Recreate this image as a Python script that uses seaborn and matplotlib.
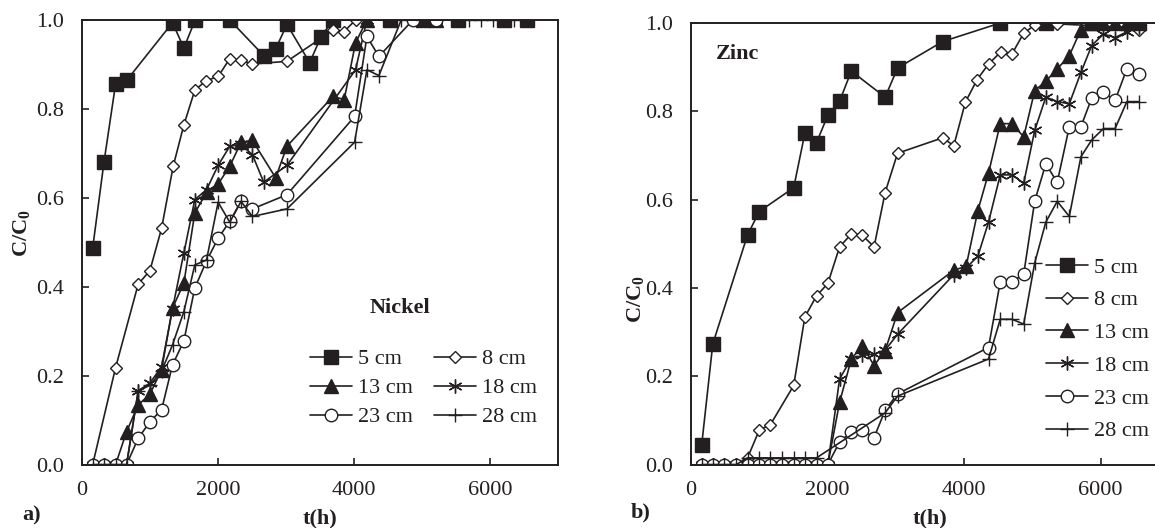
import matplotlib
matplotlib.use("Agg")
import matplotlib.pyplot as plt
import seaborn as sns

# ---------------- data: Nickel (panel a) ----------------
ni_labels = ["5 cm", "8 cm", "13 cm", "18 cm", "23 cm", "28 cm"]

ni5_t = [157, 323, 494, 656, 1331, 1498, 1664, 2173, 2672, 2848, 3014, 3348, 3514, 3690, 4533, 5022, 5525, 6211, 6539]
ni5_c = [0.487, 0.68, 0.856, 0.864, 0.994, 0.937, 1.0, 1.0, 0.92, 0.935, 0.99, 0.904, 0.962, 1.0, 1.0, 1.0, 1.0, 1.0, 1.0]

ni8_t = [157, 494, 827, 998, 1170, 1341, 1498, 1659, 1821, 2002, 2173, 2339, 2506, 3014, 3690, 3847, 4023, 5208]
ni8_c = [0.0, 0.218, 0.406, 0.436, 0.531, 0.671, 0.764, 0.842, 0.863, 0.873, 0.913, 0.909, 0.901, 0.907, 0.977, 0.973, 1.0, 1.0]

ni13_t = [157, 323, 494, 656, 827, 998, 1170, 1331, 1498, 1659, 1831, 2002, 2173, 2339, 2506, 2848, 3014, 3690, 3856, 4023, 4190, 5208]
ni13_c = [0.0, 0.0, 0.0, 0.074, 0.134, 0.158, 0.213, 0.352, 0.408, 0.566, 0.612, 0.631, 0.671, 0.725, 0.729, 0.645, 0.716, 0.828, 0.821, 0.949, 1.0, 1.0]

ni18_t = [157, 323, 494, 656, 827, 998, 1170, 1331, 1498, 1659, 1831, 2002, 2173, 2339, 2506, 2672, 3014, 4023, 4190, 5208]
ni18_c = [0.0, 0.0, 0.0, 0.0, 0.166, 0.183, 0.22, 0.35, 0.476, 0.596, 0.618, 0.673, 0.716, 0.72, 0.697, 0.635, 0.673, 0.888, 1.0, 1.0]

ni23_t = [157, 323, 494, 656, 827, 998, 1170, 1331, 1498, 1659, 1831, 2002, 2173, 2339, 2506, 3014, 4009, 4190, 4366, 4866, 5208]
ni23_c = [0.0, 0.0, 0.0, 0.0, 0.059, 0.096, 0.123, 0.224, 0.278, 0.397, 0.458, 0.509, 0.547, 0.592, 0.575, 0.607, 0.783, 0.963, 0.918, 1.0, 1.0]

ni28_t = [157, 323, 494, 656, 827, 998, 1170, 1331, 1498, 1659, 1831, 2002, 2173, 2339, 2506, 3014, 4009, 4190, 4366, 4694, 5022, 5698, 5869, 6040, 6358]
ni28_c = [0.0, 0.0, 0.0, 0.0, 0.166, 0.178, 0.21, 0.269, 0.344, 0.449, 0.46, 0.59, 0.545, 0.592, 0.558, 0.575, 0.725, 0.888, 0.875, 1.0, 1.0, 1.0, 1.0, 1.0, 1.0]

# ---------------- data: Zinc (panel b) ----------------
zn5_t = [157, 319, 828, 1000, 1504, 1667, 1838, 2004, 2176, 2348, 2843, 3025, 3686, 4529, 5196, 5868, 6554]
zn5_c = [0.045, 0.273, 0.52, 0.573, 0.627, 0.75, 0.729, 0.791, 0.823, 0.891, 0.832, 0.898, 0.958, 1.0, 1.0, 1.0, 1.0]

zn8_t = [157, 319, 490, 666, 828, 1000, 1162, 1504, 1667, 1838, 2004, 2176, 2348, 2510, 2681, 2843, 3025, 3686, 3848, 4019, 4191, 4357, 4534, 4701, 4872, 5034, 5363, 6383, 6554]
zn8_c = [0.0, 0.0, 0.0, 0.0, 0.015, 0.078, 0.09, 0.179, 0.334, 0.382, 0.41, 0.493, 0.522, 0.519, 0.493, 0.616, 0.705, 0.74, 0.722, 0.821, 0.872, 0.907, 0.934, 0.93, 0.977, 0.995, 0.998, 0.99, 0.985]

zn13_t = [157, 319, 490, 666, 828, 1000, 1162, 1334, 1504, 1667, 1838, 2004, 2176, 2348, 2510, 2681, 2843, 3025, 3848, 4029, 4201, 4357, 4529, 4701, 4872, 5034, 5196, 5363, 5540, 5710, 5868, 6040, 6211, 6383, 6554]
zn13_c = [0.0, 0.0, 0.0, 0.0, 0.0, 0.0, 0.0, 0.0, 0.0, 0.0, 0.0, 0.0, 0.141, 0.239, 0.269, 0.224, 0.258, 0.344, 0.44, 0.449, 0.575, 0.66, 0.772, 0.772, 0.742, 0.847, 0.868, 0.896, 0.926, 0.985, 1.0, 1.0, 1.0, 1.0, 1.0]

zn18_t = [157, 319, 490, 666, 828, 1000, 1162, 1334, 1504, 1667, 1838, 2004, 2176, 2348, 2510, 2681, 2843, 3025, 3848, 4029, 4201, 4357, 4529, 4701, 4872, 5034, 5196, 5363, 5540, 5710, 5868, 6040, 6211, 6383, 6554]
zn18_c = [0.0, 0.0, 0.0, 0.0, 0.0, 0.0, 0.0, 0.0, 0.0, 0.0, 0.0, 0.0, 0.194, 0.24, 0.247, 0.25, 0.259, 0.295, 0.43, 0.445, 0.472, 0.549, 0.656, 0.656, 0.637, 0.757, 0.832, 0.822, 0.817, 0.888, 0.949, 0.975, 0.967, 0.98, 0.99]

zn23_t = [157, 319, 490, 666, 828, 1000, 1162, 1334, 1504, 1667, 1838, 2004, 2176, 2348, 2510, 2681, 2843, 3025, 4357, 4529, 4701, 4872, 5034, 5196, 5363, 5540, 5710, 5868, 6040, 6211, 6383, 6554]
zn23_c = [0.0, 0.0, 0.0, 0.0, 0.0, 0.0, 0.0, 0.0, 0.0, 0.0, 0.0, 0.0, 0.051, 0.074, 0.078, 0.061, 0.123, 0.16, 0.265, 0.414, 0.414, 0.431, 0.597, 0.681, 0.639, 0.765, 0.765, 0.83, 0.843, 0.825, 0.896, 0.885]

zn28_t = [157, 319, 490, 666, 828, 1000, 1162, 1334, 1504, 1667, 1838, 2843, 3025, 4357, 4529, 4701, 4872, 5034, 5196, 5363, 5540, 5710, 5868, 6040, 6211, 6383, 6554]
zn28_c = [0.0, 0.0, 0.0, 0.0, 0.015, 0.015, 0.015, 0.015, 0.015, 0.015, 0.015, 0.117, 0.155, 0.239, 0.329, 0.329, 0.318, 0.457, 0.549, 0.596, 0.562, 0.697, 0.735, 0.761, 0.761, 0.822, 0.822]

x_ticks = [0, 2000, 4000, 6000]
y_ticks = [0.0, 0.2, 0.4, 0.6, 0.8, 1.0]
x_ticklabels = ["0", "2000", "4000", "6000"]
y_ticklabels = ["0.0", "0.2", "0.4", "0.6", "0.8", "1.0"]

# ---------------- style ----------------
sns.set_theme(style="ticks")
plt.rcParams["font.family"] = ["Liberation Serif", "DejaVu Serif"]
plt.rcParams["mathtext.fontset"] = "custom"
plt.rcParams["mathtext.rm"] = "Liberation Serif"
plt.rcParams["mathtext.bf"] = "Liberation Serif:bold"
plt.rcParams["mathtext.it"] = "Liberation Serif:italic"

INK = "#231f20"
FS = 16

marker_style = {
    "5 cm": dict(marker="s", markersize=9.5, markerfacecolor=INK),
    "8 cm": dict(marker="D", markersize=6.5, markerfacecolor="white"),
    "13 cm": dict(marker="^", markersize=10, markerfacecolor=INK),
    "18 cm": dict(marker=(6, 2, 0), markersize=10, markerfacecolor=INK),
    "23 cm": dict(marker="o", markersize=9, markerfacecolor="white"),
    "28 cm": dict(marker="+", markersize=10, markerfacecolor=INK),
}

fig = plt.figure(figsize=(11.55, 5.28), dpi=100)
W, H = 1155.0, 528.0
ax1 = fig.add_axes([82 / W, (H - 464.5) / H, 476 / W, 444.5 / H])
ax2 = fig.add_axes([691 / W, (H - 464.5) / H, 478 / W, 441.5 / H])

ni_series = [(ni_labels[0], ni5_t, ni5_c), (ni_labels[1], ni8_t, ni8_c), (ni_labels[2], ni13_t, ni13_c),
             (ni_labels[3], ni18_t, ni18_c), (ni_labels[4], ni23_t, ni23_c), (ni_labels[5], ni28_t, ni28_c)]
zn_series = [(ni_labels[0], zn5_t, zn5_c), (ni_labels[1], zn8_t, zn8_c), (ni_labels[2], zn13_t, zn13_c),
             (ni_labels[3], zn18_t, zn18_c), (ni_labels[4], zn23_t, zn23_c), (ni_labels[5], zn28_t, zn28_c)]


def draw(ax, series):
    for label, t, c in series:
        st = marker_style[label]
        sns.lineplot(x=t, y=c, ax=ax, color=INK, linewidth=1.2, sort=False, errorbar=None,
                     markeredgecolor=INK, markeredgewidth=1.0, label=label, **st)


def style_axes(ax):
    ax.set_xlim(0, 7000)
    ax.set_ylim(0, 1.0)
    ax.set_xticks(x_ticks)
    ax.set_xticklabels(x_ticklabels)
    ax.set_yticks(y_ticks)
    ax.set_yticklabels(y_ticklabels)
    ax.tick_params(axis="both", direction="in", length=5, width=1.2, colors=INK,
                   labelsize=FS, top=False, right=False)
    ax.tick_params(axis="x", pad=12)
    ax.tick_params(axis="y", pad=13)
    for sp in ax.spines.values():
        sp.set_visible(True)
        sp.set_linewidth(1.4)
        sp.set_color(INK)
    ax.set_xlabel("t(h)", fontsize=FS, fontweight="bold", color=INK, va="top")
    ax.xaxis.set_label_coords(0.5, -0.1)
    ax.set_ylabel(r"$\mathbf{C/C_0}$", fontsize=FS, color=INK)
    ax.grid(False)


draw(ax1, ni_series)
draw(ax2, zn_series)
style_axes(ax1)
style_axes(ax2)
ax1.yaxis.set_label_coords(-0.105, 0.52)
ax2.yaxis.set_label_coords(-0.094, 0.375)

# Nickel legend: two columns
h, l = ax1.get_legend_handles_labels()
order = [0, 2, 4, 1, 3, 5]
ax1.legend([h[i] for i in order], [l[i] for i in order], ncol=2, loc="center",
           bbox_to_anchor=(0.717, 0.172), frameon=False, fontsize=FS,
           handlelength=1.9, handletextpad=0.25, columnspacing=0.95, labelspacing=0.38,
           borderpad=0.2, labelcolor=INK)
ax1.text(0.668, 0.352, "Nickel", transform=ax1.transAxes, ha="center", va="center",
         fontsize=FS, fontweight="bold", color=INK)

# Zinc legend: one column
h2, l2 = ax2.get_legend_handles_labels()
ax2.legend(h2, l2, ncol=1, loc="upper left", bbox_to_anchor=((1046 - 691) / 478, (464.5 - 257) / 441.5),
           frameon=False, fontsize=FS, handlelength=1.9, handletextpad=0.25, labelspacing=0.55,
           borderpad=0.0, borderaxespad=0.0, labelcolor=INK)
ax2.text(0.052, 0.93, "Zinc", transform=ax2.transAxes, ha="left", va="center",
         fontsize=FS, fontweight="bold", color=INK)

fig.text(22 / W, 1 - 515 / H, "a)", fontsize=FS, fontweight="bold", color=INK, va="center", ha="left")
fig.text(631 / W, 1 - 512 / H, "b)", fontsize=FS, fontweight="bold", color=INK, va="center", ha="left")

fig.savefig("out.png", dpi=100)
